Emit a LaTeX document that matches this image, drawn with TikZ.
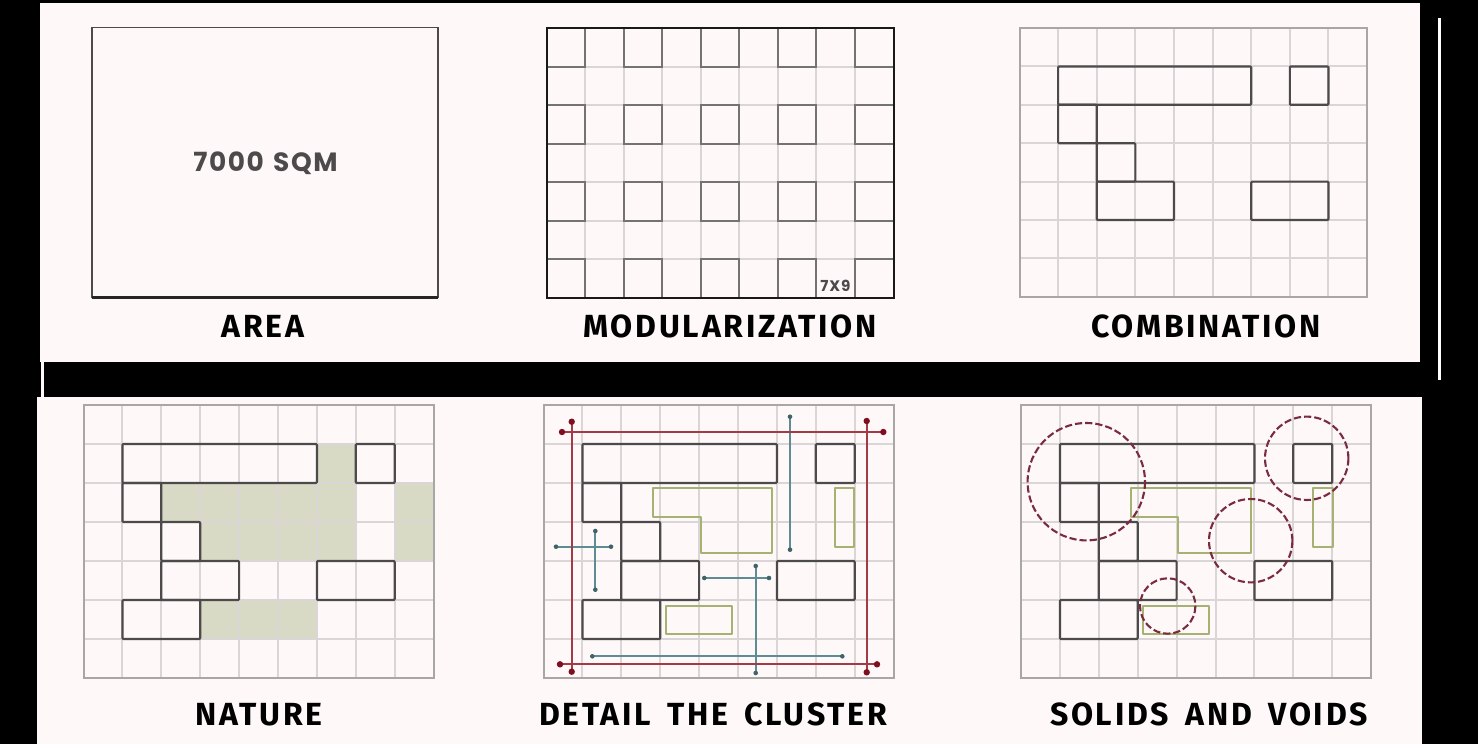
\documentclass[tikz,border=0pt]{standalone}
\usepackage{fontspec}
\newfontfamily\labfont[LetterSpace=8.5,WordSpace=1.6]{Fira Sans}
\newfontfamily\geofont[LetterSpace=6,WordSpace=1.3]{Poppins}
\definecolor{paper}{HTML}{FEF8F8}
\definecolor{gridc}{HTML}{DAD6D7}
\definecolor{framec}{HTML}{A9A6A6}
\definecolor{solidc}{HTML}{4C4A4B}
\definecolor{greenf}{HTML}{D8DAC5}
\definecolor{olive}{HTML}{A5B272}
\definecolor{redc}{HTML}{A33A46}
\definecolor{redd}{HTML}{7E0F1E}
\definecolor{tealc}{HTML}{5D8D92}
\definecolor{teald}{HTML}{3F6468}
\definecolor{dashc}{HTML}{7B2B40}
\tikzset{
  lab/.style={font=\labfont\bfseries\fontsize{16}{18}\selectfont,text=black,inner sep=0pt,anchor=center},
  grey/.style={font=\geofont\bfseries,text=solidc,inner sep=0pt,anchor=center},
  gline/.style={draw=gridc,line width=1pt},
  frame/.style={draw=framec,line width=1pt},
  solid/.style={draw=solidc,line width=1.1pt,rounded corners=.5pt,line join=round},
  oliveb/.style={draw=olive,line width=1pt,line join=round},
  redl/.style={draw=redc,line width=1pt},
  teall/.style={draw=tealc,line width=1pt},
  dashcirc/.style={draw=dashc,line width=1.05pt,dash pattern=on 3.6pt off 1.5pt},
}
% grid of 9 x 7 cells in the current scope
\newcommand{\cellgrid}{%
  \foreach \i in {1,...,8} {\draw[gline] (\i,0) -- (\i,7);}
  \foreach \j in {1,...,6} {\draw[gline] (0,\j) -- (9,\j);}
  \draw[frame] (0,0) rectangle (9,7);
}
\newcommand{\blocksA}{%
  \draw[solid] (1,1) rectangle (6,2);
  \draw[solid] (7,1) rectangle (8,2);
  \draw[solid] (1,2) rectangle (2,3);
  \draw[solid] (2,3) rectangle (3,4);
  \draw[solid] (2,4) rectangle (4,5);
  \draw[solid] (6,4) rectangle (8,5);
}
\newcommand{\blocksB}{\blocksA\draw[solid] (1,5) rectangle (3,6);}
\newcommand{\reddot}[2]{\fill[redd] (#1,#2) circle[radius=3.2];}
\newcommand{\tealdot}[2]{\fill[teald] (#1,#2) circle[radius=2.3];}
\newcommand{\redbar}[4]{\draw[redl] (#1,#2) -- (#3,#4);\reddot{#1}{#2}\reddot{#3}{#4}}
\newcommand{\tealbar}[4]{\draw[teall] (#1,#2) -- (#3,#4);\tealdot{#1}{#2}\tealdot{#3}{#4}}
\begin{document}
\begin{tikzpicture}[x=.5pt,y=-.5pt]
\useasboundingbox (0,0) rectangle (1478,744);
\fill[black] (0,0) rectangle (1478,744);
% paper panels
\fill[paper] (40,3) rectangle (1420,362);
\fill[paper] (37,397) rectangle (1422,744);
\fill[paper] (41,362) rectangle (43.5,397);
\fill[white] (1437.5,18) rectangle (1441,380);

% 1 AREA
\draw[draw=solidc,line width=.8pt] (92,298) -- (92,27.5) -- (438,27.5) -- (438,298);
\draw[draw=black!85,line width=1.2pt] (92,297.5) -- (438,297.5);
\node[grey,font=\geofont\bfseries\fontsize{13.2}{15}\selectfont] (sqm) at (265.5,163.5) {7000 SQM};
\node[lab] (area) at (263,326.5) {AREA};

% 2 MODULARIZATION
\begin{scope}[shift={(546.5,28)},x=19.28pt,y=-19.25pt]
  \cellgrid
  \foreach \i in {0,2,4,6,8} {\foreach \j in {0,2,4,6} {
    \draw[draw=black!55,line width=1pt] (\i,\j) rectangle (\i+1,\j+1);}}
  \draw[draw=black!90,line width=1pt] (0,7) -- (0,0) -- (9,0) -- (9,7) -- cycle;
\end{scope}
\node[grey,font=\geofont\bfseries\fontsize{7.6}{9}\selectfont] (size) at (835.5,286) {7X9};
\node[lab] (modul) at (730,326.5) {MODULARIZATION};

% 3 COMBINATION
\begin{scope}[shift={(1019.5,28)},x=19.31pt,y=-19.2pt]
  \cellgrid
  \blocksA
\end{scope}
\node[lab] (comb) at (1206,326.5) {COMBINATION};

% 4 NATURE
\begin{scope}[shift={(83.5,405)},x=19.45pt,y=-19.5pt]
  \fill[greenf] (2,2) -- (6,2) -- (6,1) -- (7,1) -- (7,4) -- (3,4) -- (3,3) -- (2,3) -- cycle;
  \fill[greenf] (8,2) rectangle (9,4);
  \fill[greenf] (3,5) rectangle (6,6);
  \cellgrid
  \blocksB
\end{scope}
\node[lab] (nature) at (259,714.5) {NATURE};

% 5 DETAIL THE CLUSTER
\begin{scope}[shift={(543.5,405)},x=19.45pt,y=-19.5pt]
  \cellgrid
  \blocksB
\end{scope}
\draw[oliveb] (652.7,488.3) -- (772.3,488.3) -- (772.3,553) -- (700.7,553) -- (700.7,517.3) -- (652.7,517.3) -- cycle;
\draw[oliveb] (834.7,488.3) rectangle (854.3,547.3);
\draw[oliveb] (665.7,605.7) rectangle (732,634);
\tealbar{790}{416.7}{790}{549.7}
\tealbar{556}{546.7}{611}{546.7}
\tealbar{595.3}{531}{595.3}{589.7}
\tealbar{704.3}{578}{769}{578}
\tealbar{755.7}{566}{755.7}{673}
\tealbar{592.3}{656.3}{842.3}{656.3}
\redbar{562}{432}{883.3}{432}
\redbar{571.7}{421.7}{571.7}{671.7}
\redbar{560}{664.3}{877}{664.3}
\redbar{866.7}{421}{866.7}{672.3}
\node[lab] (detail) at (713,714.5) {DETAIL THE CLUSTER};

% 6 SOLIDS AND VOIDS
\begin{scope}[shift={(1021,405)},x=19.45pt,y=-19.5pt]
  \cellgrid
  \blocksB
\end{scope}
\draw[oliveb] (1130.7,488.3) -- (1250.7,488.3) -- (1250.7,553) -- (1178.3,553) -- (1178.3,517.3) -- (1130.7,517.3) -- cycle;
\draw[oliveb] (1313,488.3) rectangle (1332.7,547.3);
\draw[oliveb] (1142.7,605.7) rectangle (1209,634);
\draw[dashcirc] (1086.3,481.7) circle[radius=58.7];
\draw[dashcirc] (1306.7,458.3) circle[radius=41.7];
\draw[dashcirc] (1250.7,540.7) circle[radius=41.7];
\draw[dashcirc] (1167.7,606) circle[radius=27.7];
\node[lab] (solids) at (1209,714.5) {SOLIDS AND VOIDS};
\end{tikzpicture}
\end{document}
